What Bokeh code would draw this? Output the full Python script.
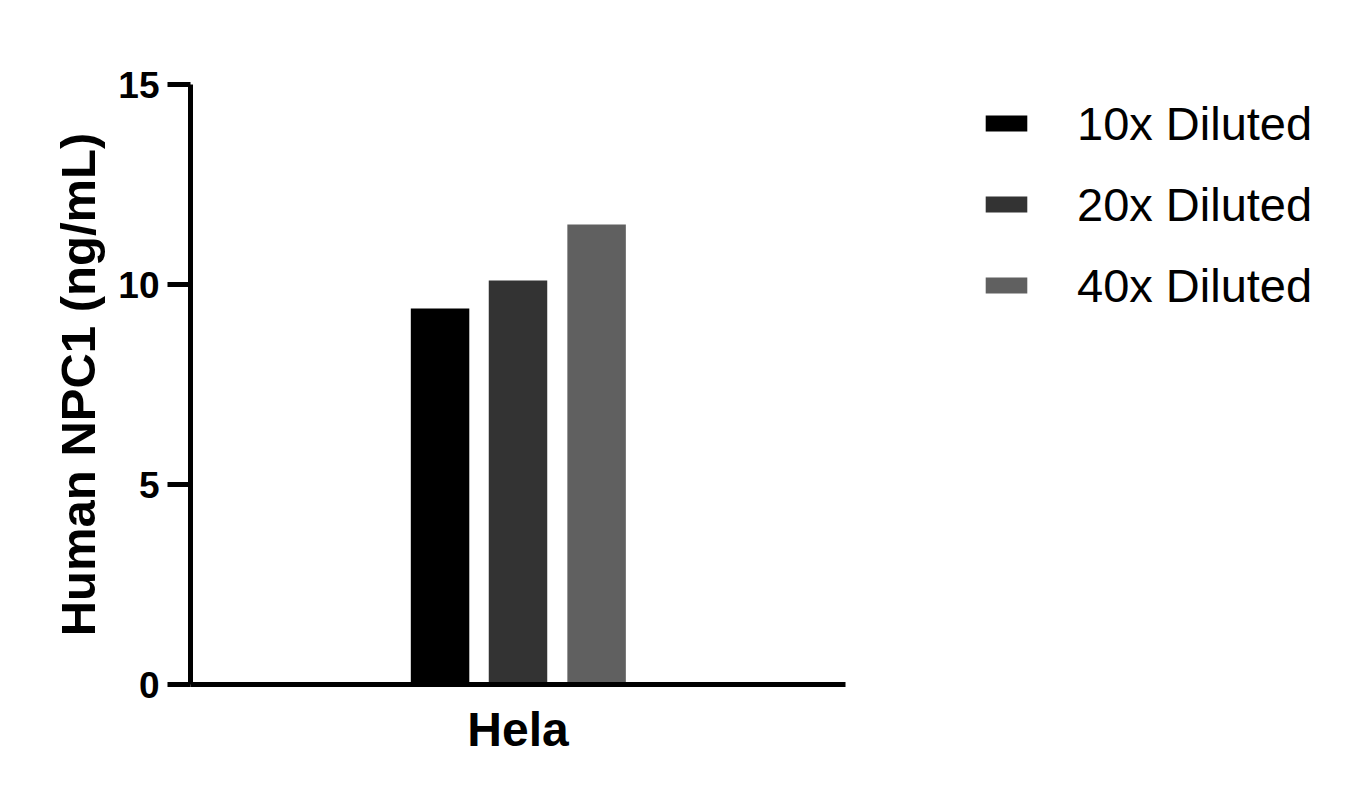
from bokeh.plotting import figure
from bokeh.models import FactorRange, Range1d, Legend, LegendItem, FixedTicker
from bokeh.layouts import row
from bokeh.transform import dodge
from bokeh.embed import file_html
from bokeh.resources import INLINE

categories = ["Hela"]
series = ["10x Diluted", "20x Diluted", "40x Diluted"]
values = [9.4, 10.1, 11.5]
colors = ["#000000", "#333333", "#606060"]
offsets = [-0.119, 0.0, 0.120]
y_ticks = [0, 5, 10, 15]
y_label = "Human NPC1 (ng/mL)"

W1, W2, H = 860, 486, 788
FONT = "Liberation Sans"

p = figure(width=W1, height=H, x_range=FactorRange(*categories), y_range=Range1d(0, 15),
           output_backend="svg", toolbar_location=None,
           min_border_left=190, min_border_right=W1 - 845, min_border_top=84, min_border_bottom=104)
p.outline_line_color = None
p.xgrid.visible = False
p.ygrid.visible = False
p.background_fill_color = "white"
p.border_fill_color = "white"

for val, col, off in zip(values, colors, offsets):
    p.vbar(x=dodge("x", off, range=p.x_range), top="top", width=0.0893, bottom=0,
           source=dict(x=categories, top=[val]), fill_color=col, line_color=None)

# axes
p.yaxis.ticker = FixedTicker(ticks=y_ticks)
p.yaxis.axis_line_width = 5
p.yaxis.major_tick_line_width = 5
p.yaxis.major_tick_out = 23
p.yaxis.major_tick_in = 0
p.yaxis.minor_tick_line_color = None
p.yaxis.major_label_text_font = FONT
p.yaxis.major_label_text_font_style = "bold"
p.yaxis.major_label_text_font_size = "37px"
p.yaxis.major_label_text_color = "black"
p.yaxis.major_label_standoff = 8
p.yaxis.axis_label = y_label
p.yaxis.axis_label_text_font = FONT
p.yaxis.axis_label_text_font_style = "bold"
p.yaxis.axis_label_text_font_size = "49px"
p.yaxis.axis_label_text_color = "black"
p.yaxis.axis_label_standoff = 10

p.xaxis.axis_line_width = 5
p.xaxis.major_tick_line_color = None
p.xaxis.minor_tick_line_color = None
p.xaxis.major_label_text_font = FONT
p.xaxis.major_label_text_font_style = "bold"
p.xaxis.major_label_text_font_size = "48px"
p.xaxis.major_label_text_color = "black"
p.xaxis.major_label_standoff = 12

# legend panel (a blank figure that only holds the legend)
p2 = figure(width=W2, height=H, output_backend="svg", toolbar_location=None,
            x_range=Range1d(0, 1), y_range=Range1d(0, 1),
            x_axis_location=None, y_axis_location=None,
            min_border_left=0, min_border_right=0, min_border_top=84, min_border_bottom=104)
p2.outline_line_color = None
p2.xgrid.visible = False
p2.ygrid.visible = False
p2.border_fill_color = "white"
items = []
for name, col in zip(series, colors):
    # zero-size bars: they only provide the legend swatches
    r = p2.vbar(x=[0], top=[0], bottom=[0], width=0, fill_color=col, line_color=None)
    items.append(LegendItem(label=name, renderers=[r]))

legend = Legend(items=items, location=(120, 369), orientation="vertical",
                glyph_width=52, glyph_height=20, label_height=60, spacing=21,
                label_standoff=45, padding=0, margin=0,
                border_line_color=None, background_fill_alpha=0,
                label_text_font=FONT, label_text_font_size="47px", label_text_color="black")
p2.add_layout(legend, "center")

layout = row(p, p2)
open("out.html", "w").write(file_html(layout, INLINE))
